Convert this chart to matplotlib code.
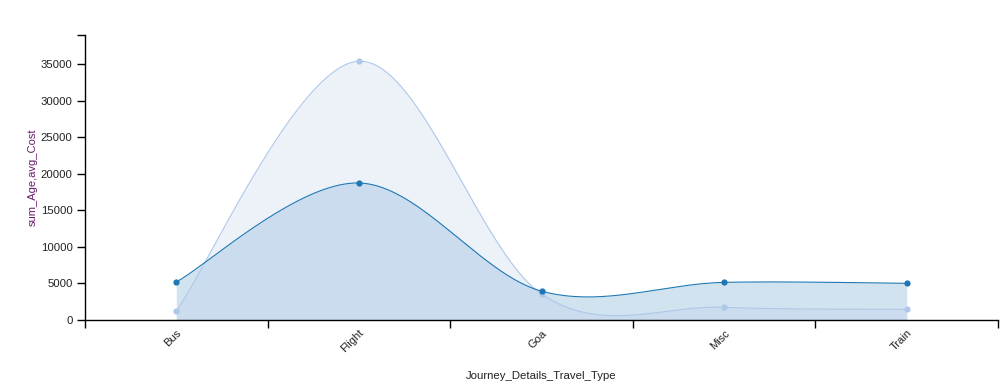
import numpy as np
import matplotlib.pyplot as plt

plt.rcParams['font.family'] = ['Liberation Sans', 'DejaVu Sans']

# chart data
categories = ['Bus', 'Flight', 'Goa', 'Misc', 'Train']
sum_age = [5200, 18750, 3950, 5150, 5020]
avg_cost = [1230, 35420, 3550, 1740, 1460]


def cardinal(xs, ys, tension=0.0, n=40):
    """d3-style cardinal curve through the points (endpoints duplicated)."""
    k = (1 - tension) / 6
    px = [xs[0]] + list(xs) + [xs[-1]]
    py = [ys[0]] + list(ys) + [ys[-1]]
    out_x, out_y = [], []
    t = np.linspace(0, 1, n)
    for i in range(1, len(px) - 2):
        x0, x1, x2, x3 = px[i - 1], px[i], px[i + 1], px[i + 2]
        y0, y1, y2, y3 = py[i - 1], py[i], py[i + 1], py[i + 2]
        bx = [x1, x1 + k * (x2 - x0), x2 - k * (x3 - x1), x2]
        by = [y1, y1 + k * (y2 - y0), y2 - k * (y3 - y1), y2]
        c = [(1 - t) ** 3, 3 * (1 - t) ** 2 * t, 3 * (1 - t) * t ** 2, t ** 3]
        out_x.append(sum(c[j] * bx[j] for j in range(4)))
        out_y.append(sum(c[j] * by[j] for j in range(4)))
    return np.concatenate(out_x), np.concatenate(out_y)


fig = plt.figure(figsize=(10.08, 3.91), dpi=100)
ax = fig.add_axes([85 / 1008, 1 - 320 / 391, 913 / 1008, 285 / 391])

xpos = np.arange(len(categories)) + 0.5

series = [
    (sum_age, '#1f77b4', 0.2),
    (avg_cost, '#aec7e8', 0.22),
]
curves = []
for vals, col, a in series:
    cx, cy = cardinal(xpos, vals)
    ax.fill_between(cx, 0, cy, color=col, alpha=a, linewidth=0)
    curves.append((cx, cy, vals, col))
for cx, cy, vals, col in curves[::-1]:
    ax.plot(cx, cy, color=col, lw=0.8)
    ax.plot(xpos, vals, 'o', color=col, ms=4.5, mec='none')

ax.set_xlim(0, len(categories))
ax.set_ylim(0, 39000)
ax.set_xticks(np.arange(len(categories) + 1))
ax.set_xticklabels([])
ax.set_yticks(np.arange(0, 35001, 5000))
ax.set_yticks([39000], minor=True)
ax.tick_params(axis='y', which='minor', length=6, width=1)
ax.tick_params(axis='both', which='major', length=6, width=1, labelsize=8.2, colors='black',
               labelcolor='#222222')
ax.tick_params(axis='y', pad=3)

for x, lab in zip(xpos, categories):
    ax.text(x, -1100, lab, rotation=45, ha='right', va='top', fontsize=8,
            color='#222222', rotation_mode='anchor')

for s in ['top', 'right']:
    ax.spines[s].set_visible(False)
for s in ['left', 'bottom']:
    ax.spines[s].set_linewidth(1)

fig.text(541 / 1008, 1 - 376 / 391, 'Journey_Details_Travel_Type', ha='center', va='center',
         fontsize=8.2, color='#222222')
fig.text(33 / 1008, 1 - 177 / 391, 'sum_Age,avg_Cost', ha='center', va='center',
         rotation=90, fontsize=8, color='#6a1b6a')

fig.savefig('out.png', dpi=100)
